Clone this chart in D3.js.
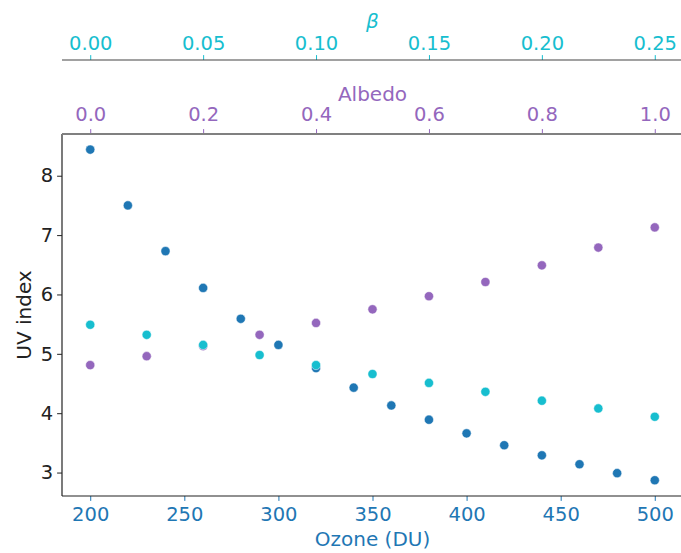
<!DOCTYPE html>
<html><head><meta charset="utf-8">
<script src="https://cdn.jsdelivr.net/npm/d3@7"></script>
<style>body{margin:0;background:#fff}svg{display:block}text{font-family:"DejaVu Sans",sans-serif}</style>
</head><body>
<svg id="c" width="681" height="553"></svg>
<script>
const ozone = [200,220,240,260,280,300,320,340,360,380,400,420,440,460,480,500];
const uvOzone = [8.44,7.50,6.73,6.11,5.59,5.15,4.76,4.43,4.13,3.89,3.66,3.46,3.29,3.14,2.99,2.87];
const albedo = [0.0,0.1,0.2,0.3,0.4,0.5,0.6,0.7,0.8,0.9,1.0];
const uvAlbedo = [4.81,4.96,5.13,5.32,5.52,5.75,5.97,6.21,6.49,6.79,7.13];
const beta = [0.0,0.025,0.05,0.075,0.1,0.125,0.15,0.175,0.2,0.225,0.25];
const uvBeta = [5.49,5.32,5.15,4.98,4.81,4.66,4.51,4.36,4.21,4.08,3.94];
const ozoneTicks = [200,250,300,350,400,450,500];
const albedoTicks = [0.0,0.2,0.4,0.6,0.8,1.0];
const betaTicks = [0.00,0.05,0.10,0.15,0.20,0.25];
const uvTicks = [3,4,5,6,7,8];

const cBlue="#1f77b4", cPurple="#9467bd", cCyan="#17becf";
const L=62, R=683, T=134, B=496, FS=19.5;
const svg=d3.select("#c");
const x=d3.scaleLinear().domain([185,515]).range([L,R]);
const xa=d3.scaleLinear().domain([-0.05,1.05]).range([L,R]);
const xb=d3.scaleLinear().domain([-0.0125,0.2625]).range([L,R]);
const y=d3.scaleLinear().domain([2.605,8.703]).range([B,T]);

function style(g,color){
  g.select(".domain").remove();
  g.selectAll(".tick line").attr("stroke",color).attr("stroke-width",1);
  g.selectAll(".tick text").attr("fill",color).style("font-size",FS+"px").style("font-family","DejaVu Sans");
}
// bottom axis
const gx=svg.append("g").attr("transform",`translate(0,${B})`)
  .call(d3.axisBottom(x).tickValues(ozoneTicks).tickSize(4.9).tickPadding(6.5).tickFormat(d3.format("d")));
style(gx,cBlue);
// left axis
const gy=svg.append("g").attr("transform",`translate(${L},0)`)
  .call(d3.axisLeft(y).tickValues(uvTicks).tickSize(4.9).tickPadding(4).tickFormat(d3.format("d")));
style(gy,"#222");
// albedo axis
const ga=svg.append("g").attr("transform",`translate(0,${T})`)
  .call(d3.axisTop(xa).tickValues(albedoTicks).tickSize(4.9).tickPadding(8).tickFormat(d3.format(".1f")));
style(ga,cPurple);
// beta axis
const YB=60;
const gb=svg.append("g").attr("transform",`translate(0,${YB})`)
  .call(d3.axisTop(xb).tickValues(betaTicks).tickSize(4.9).tickPadding(5.5).tickFormat(d3.format(".2f")));
style(gb,cCyan);

// spines
svg.append("line").attr("x1",L).attr("x2",R).attr("y1",B).attr("y2",B).attr("stroke","#222").attr("stroke-width",1.2);
svg.append("line").attr("x1",L).attr("x2",L).attr("y1",T).attr("y2",B).attr("stroke","#222").attr("stroke-width",1.2);
svg.append("line").attr("x1",R).attr("x2",R).attr("y1",T).attr("y2",B).attr("stroke","#222").attr("stroke-width",1.2);
svg.append("line").attr("x1",L).attr("x2",R).attr("y1",T).attr("y2",T).attr("stroke","#808080").attr("stroke-width",1.8);
svg.append("line").attr("x1",L).attr("x2",R).attr("y1",YB).attr("y2",YB).attr("stroke","#444").attr("stroke-width",1.2);

// points
function pts(xs,ys,sc,color){
  svg.append("g").selectAll("circle").data(xs.map((v,i)=>[v,ys[i]])).join("circle")
    .attr("cx",d=>sc(d[0])).attr("cy",d=>y(d[1])).attr("r",4.6)
    .attr("fill",color).attr("stroke","#fff").attr("stroke-width",0.5);
}
pts(ozone,uvOzone,x,cBlue);
pts(albedo,uvAlbedo,xa,cPurple);
pts(beta,uvBeta,xb,cCyan);

// labels
svg.append("text").attr("x",(L+R)/2).attr("y",546).attr("text-anchor","middle")
  .attr("fill",cBlue).style("font-size","20px").text("Ozone (DU)");
svg.append("text").attr("transform",`translate(31,${(T+B)/2}) rotate(-90)`).attr("text-anchor","middle")
  .attr("fill","#222").style("font-size","20px").text("UV index");
svg.append("text").attr("x",(L+R)/2).attr("y",101).attr("text-anchor","middle")
  .attr("fill",cPurple).style("font-size","20px").text("Albedo");
svg.append("text").attr("x",(L+R)/2).attr("y",28).attr("text-anchor","middle")
  .attr("fill",cCyan).style("font-size","20px").style("font-style","italic").text("β");
</script>
</body></html>
